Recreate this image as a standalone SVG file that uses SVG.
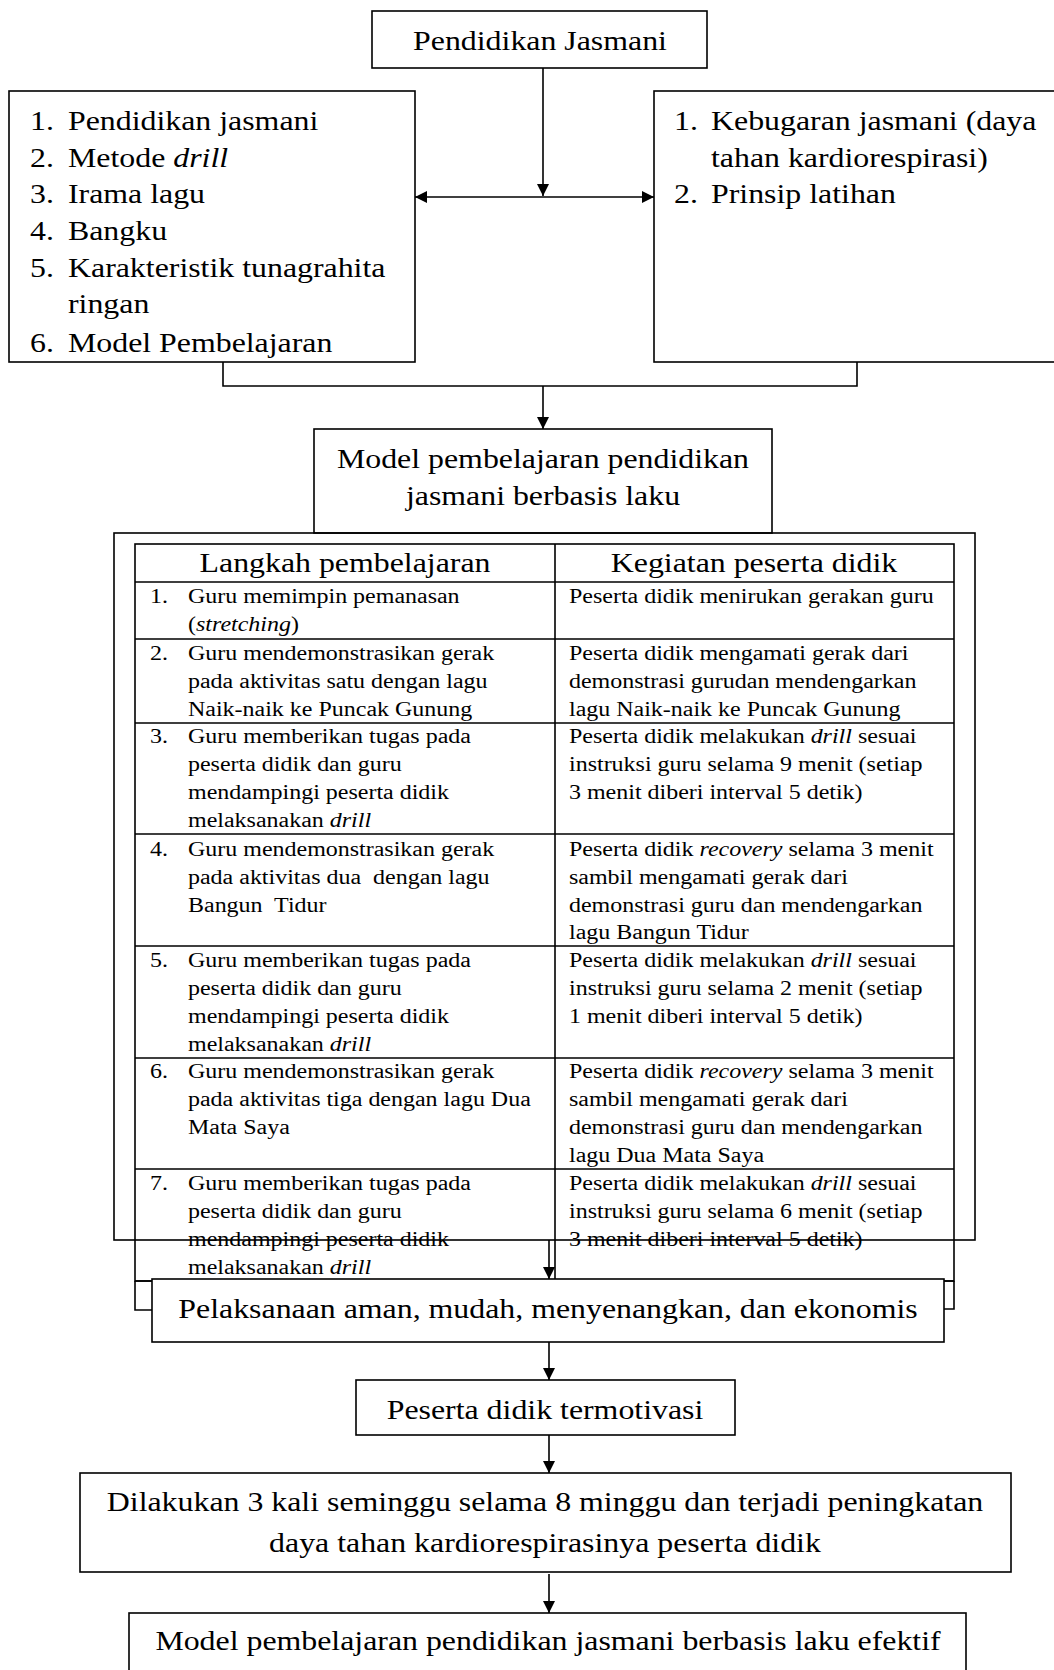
<svg xmlns="http://www.w3.org/2000/svg" width="1054" height="1670" viewBox="0 0 1054 1670">
<style>
.box{fill:#fff;stroke:#000;stroke-width:1.6}
.frame{fill:none;stroke:#000;stroke-width:1.6}
.ln{fill:none;stroke:#000;stroke-width:1.6}
.big{font-family:"Liberation Serif","Times New Roman",serif;font-size:27px;fill:#000}
.sm{font-family:"Liberation Serif","Times New Roman",serif;font-size:20.5px;fill:#000}
.c{text-anchor:middle}
.i{font-style:italic}
</style>
<defs>
<marker id="ah" viewBox="0 0 12 12" refX="12" refY="6" markerWidth="12" markerHeight="12" markerUnits="userSpaceOnUse" orient="auto">
<path d="M0,0 L12,6 L0,12 z" fill="#000"/>
</marker>
<clipPath id="clipL"><rect x="0" y="0" width="420" height="361"/></clipPath>
</defs>

<g id="connectors">
<line class="ln" x1="543" y1="68" x2="543" y2="196" marker-end="url(#ah)"/>
<line class="ln" x1="543" y1="197" x2="415" y2="197" marker-end="url(#ah)"/>
<line class="ln" x1="543" y1="197" x2="654" y2="197" marker-end="url(#ah)"/>
<path class="ln" d="M223,362 V386 H857 V362"/>
<line class="ln" x1="543" y1="386" x2="543" y2="429" marker-end="url(#ah)"/>
<line class="ln" x1="549" y1="1240" x2="549" y2="1279" marker-end="url(#ah)"/>
<path class="ln" d="M135,1281 V1310 H152 M135,1281 H152"/>
<path class="ln" d="M954,1281 V1309 H944 M954,1281 H944"/>
<line class="ln" x1="549" y1="1342" x2="549" y2="1380" marker-end="url(#ah)"/>
<line class="ln" x1="549" y1="1435" x2="549" y2="1473" marker-end="url(#ah)"/>
<line class="ln" x1="549" y1="1574" x2="549" y2="1613" marker-end="url(#ah)"/>
</g>

<g id="node-pendidikan-jasmani">
<rect class="box" x="372" y="11" width="335" height="57"/>
<text class="big c" transform="translate(540,50) scale(1.18,1)">Pendidikan Jasmani</text>
</g>

<g id="node-left-list">
<rect class="box" x="9" y="91" width="406" height="271"/>
<g clip-path="url(#clipL)" class="big">
<text transform="translate(30,130) scale(1.18,1)">1.</text><text transform="translate(68,130) scale(1.18,1)">Pendidikan jasmani</text>
<text transform="translate(30,167) scale(1.18,1)">2.</text><text transform="translate(68,167) scale(1.18,1)">Metode <tspan class="i">drill</tspan></text>
<text transform="translate(30,203) scale(1.18,1)">3.</text><text transform="translate(68,203) scale(1.18,1)">Irama lagu</text>
<text transform="translate(30,240) scale(1.18,1)">4.</text><text transform="translate(68,240) scale(1.18,1)">Bangku</text>
<text transform="translate(30,277) scale(1.18,1)">5.</text><text transform="translate(68,277) scale(1.18,1)">Karakteristik tunagrahita</text>
<text transform="translate(68,313) scale(1.18,1)">ringan</text>
<text transform="translate(30,352) scale(1.18,1)">6.</text><text transform="translate(68,352) scale(1.18,1)">Model Pembelajaran</text>
</g>
</g>

<g id="node-right-list">
<rect class="box" x="654" y="91" width="420" height="271"/>
<g class="big">
<text transform="translate(674,130) scale(1.18,1)">1.</text><text transform="translate(711,130) scale(1.18,1)">Kebugaran jasmani (daya</text>
<text transform="translate(711,167) scale(1.18,1)">tahan kardiorespirasi)</text>
<text transform="translate(674,203) scale(1.18,1)">2.</text><text transform="translate(711,203) scale(1.18,1)">Prinsip latihan</text>
</g>
</g>

<g id="node-model">
<rect class="box" x="314" y="429" width="458" height="104"/>
<text class="big c" transform="translate(543,468) scale(1.18,1)">Model pembelajaran pendidikan</text>
<text class="big c" transform="translate(543,505) scale(1.18,1)">jasmani berbasis laku</text>
</g>

<g id="node-table">
<rect class="frame" x="135" y="544" width="819" height="737"/>
<path class="ln" d="M135,582 H954 M135,639 H954 M135,723 H954 M135,834 H954 M135,946 H954 M135,1058 H954 M135,1169 H954 M555,544 V1281"/>
<text class="big c" transform="translate(345,572) scale(1.18,1)">Langkah pembelajaran</text>
<text class="big c" transform="translate(754,572) scale(1.18,1)">Kegiatan peserta didik</text>
<g class="sm">
<text transform="translate(150,603) scale(1.17,1)">1.</text>
<text transform="translate(188,603) scale(1.17,1)">Guru memimpin pemanasan</text>
<text transform="translate(188,631) scale(1.17,1)">(<tspan class="i">stretching</tspan>)</text>
<text transform="translate(569,603) scale(1.17,1)">Peserta didik menirukan gerakan guru</text>

<text transform="translate(150,660) scale(1.17,1)">2.</text>
<text transform="translate(188,660) scale(1.17,1)">Guru mendemonstrasikan gerak</text>
<text transform="translate(188,688) scale(1.17,1)">pada aktivitas satu dengan lagu</text>
<text transform="translate(188,716) scale(1.17,1)">Naik-naik ke Puncak Gunung</text>
<text transform="translate(569,660) scale(1.17,1)">Peserta didik mengamati gerak dari</text>
<text transform="translate(569,688) scale(1.17,1)">demonstrasi gurudan mendengarkan</text>
<text transform="translate(569,716) scale(1.17,1)">lagu Naik-naik ke Puncak Gunung</text>

<text transform="translate(150,743) scale(1.17,1)">3.</text>
<text transform="translate(188,743) scale(1.17,1)">Guru memberikan tugas pada</text>
<text transform="translate(188,771) scale(1.17,1)">peserta didik dan guru</text>
<text transform="translate(188,799) scale(1.17,1)">mendampingi peserta didik</text>
<text transform="translate(188,827) scale(1.17,1)">melaksanakan <tspan class="i">drill</tspan></text>
<text transform="translate(569,743) scale(1.17,1)">Peserta didik melakukan <tspan class="i">drill</tspan> sesuai</text>
<text transform="translate(569,771) scale(1.17,1)">instruksi guru selama 9 menit (setiap</text>
<text transform="translate(569,799) scale(1.17,1)">3 menit diberi interval 5 detik)</text>

<text transform="translate(150,856) scale(1.17,1)">4.</text>
<text transform="translate(188,856) scale(1.17,1)">Guru mendemonstrasikan gerak</text>
<text transform="translate(188,884) scale(1.17,1)" xml:space="preserve">pada aktivitas dua  dengan lagu</text>
<text transform="translate(188,912) scale(1.17,1)" xml:space="preserve">Bangun  Tidur</text>
<text transform="translate(569,856) scale(1.17,1)">Peserta didik <tspan class="i">recovery</tspan> selama 3 menit</text>
<text transform="translate(569,884) scale(1.17,1)">sambil mengamati gerak dari</text>
<text transform="translate(569,912) scale(1.17,1)">demonstrasi guru dan mendengarkan</text>
<text transform="translate(569,939) scale(1.17,1)">lagu Bangun Tidur</text>

<text transform="translate(150,967) scale(1.17,1)">5.</text>
<text transform="translate(188,967) scale(1.17,1)">Guru memberikan tugas pada</text>
<text transform="translate(188,995) scale(1.17,1)">peserta didik dan guru</text>
<text transform="translate(188,1023) scale(1.17,1)">mendampingi peserta didik</text>
<text transform="translate(188,1051) scale(1.17,1)">melaksanakan <tspan class="i">drill</tspan></text>
<text transform="translate(569,967) scale(1.17,1)">Peserta didik melakukan <tspan class="i">drill</tspan> sesuai</text>
<text transform="translate(569,995) scale(1.17,1)">instruksi guru selama 2 menit (setiap</text>
<text transform="translate(569,1023) scale(1.17,1)">1 menit diberi interval 5 detik)</text>

<text transform="translate(150,1078) scale(1.17,1)">6.</text>
<text transform="translate(188,1078) scale(1.17,1)">Guru mendemonstrasikan gerak</text>
<text transform="translate(188,1106) scale(1.17,1)">pada aktivitas tiga dengan lagu Dua</text>
<text transform="translate(188,1134) scale(1.17,1)">Mata Saya</text>
<text transform="translate(569,1078) scale(1.17,1)">Peserta didik <tspan class="i">recovery</tspan> selama 3 menit</text>
<text transform="translate(569,1106) scale(1.17,1)">sambil mengamati gerak dari</text>
<text transform="translate(569,1134) scale(1.17,1)">demonstrasi guru dan mendengarkan</text>
<text transform="translate(569,1162) scale(1.17,1)">lagu Dua Mata Saya</text>

<text transform="translate(150,1190) scale(1.17,1)">7.</text>
<text transform="translate(188,1190) scale(1.17,1)">Guru memberikan tugas pada</text>
<text transform="translate(188,1218) scale(1.17,1)">peserta didik dan guru</text>
<text transform="translate(188,1246) scale(1.17,1)">mendampingi peserta didik</text>
<text transform="translate(188,1274) scale(1.17,1)">melaksanakan <tspan class="i">drill</tspan></text>
<text transform="translate(569,1190) scale(1.17,1)">Peserta didik melakukan <tspan class="i">drill</tspan> sesuai</text>
<text transform="translate(569,1218) scale(1.17,1)">instruksi guru selama 6 menit (setiap</text>
<text transform="translate(569,1246) scale(1.17,1)">3 menit diberi interval 5 detik)</text>
</g>
</g>

<g id="node-frame">
<rect class="frame" x="114" y="533" width="861" height="707"/>
</g>

<g id="node-pelaksanaan">
<rect class="box" x="152" y="1279" width="792" height="63"/>
<text class="big c" transform="translate(548,1318) scale(1.18,1)">Pelaksanaan aman, mudah, menyenangkan, dan ekonomis</text>
</g>

<g id="node-termotivasi">
<rect class="box" x="356" y="1380" width="379" height="55"/>
<text class="big c" transform="translate(545,1419) scale(1.18,1)">Peserta didik termotivasi</text>
</g>

<g id="node-dilakukan">
<rect class="box" x="80" y="1473" width="931" height="99"/>
<text class="big c" transform="translate(545,1511) scale(1.18,1)">Dilakukan 3 kali seminggu selama 8 minggu dan terjadi peningkatan</text>
<text class="big c" transform="translate(545,1552) scale(1.18,1)">daya tahan kardiorespirasinya peserta didik</text>
</g>

<g id="node-efektif">
<rect class="box" x="129" y="1613" width="837" height="100"/>
<text class="big c" transform="translate(548,1650) scale(1.18,1)">Model pembelajaran pendidikan jasmani berbasis laku efektif</text>
</g>
</svg>
